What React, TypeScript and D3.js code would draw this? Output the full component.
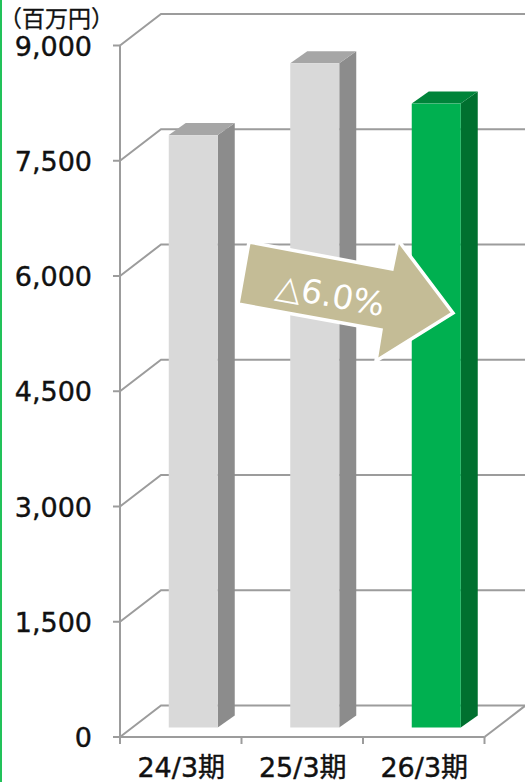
import React from "react";
import * as d3 from "d3";

const categories = ["24/3期", "25/3期", "26/3期"];
const values = [7710, 8645, 8120];
const yTicks = [0, 1500, 3000, 4500, 6000, 7500, 9000];
const unitLabel = "（百万円）";
const changeLabel = "△6.0%";
const barFaces = [
  { front: "#d9d9d9", side: "#8c8c8c", top: "#a6a6a6" },
  { front: "#d9d9d9", side: "#8c8c8c", top: "#a6a6a6" },
  { front: "#00b050", side: "#00702f", top: "#00843a" },
];

const FONT = "'DejaVu Sans','Noto Sans CJK JP',sans-serif";
const GRID = "#9c9c9c";
const AXIS = "#9c9c9c";

const y = d3.scaleLinear().domain([0, 9000]).range([737, 45.5]);
const x = d3.scaleBand<string>().domain(categories).range([120, 484.5]);
const wallDx = 41;
const wallDy = -31.5;
const barDx = 17;
const barDy = -12;
const barW = 49;

export default function App() {
  return (
    <svg
      width={525}
      height={782}
      style={{ position: "fixed", left: 0, top: 0, background: "#fff" }}
    >
      <rect x={0} y={0} width={2} height={782} fill="#22c25a" />

      {/* back wall and floor grid */}
      {yTicks.map((t) => (
        <path
          key={t}
          d={`M${x.range()[0]},${y(t)}L${x.range()[0] + wallDx},${y(t) + wallDy}H525`}
          fill="none"
          stroke={GRID}
          strokeWidth={2}
        />
      ))}
      <path
        d={`M${x.range()[1]},${y(0)}L525,${y(0) + (wallDy * (525 - x.range()[1])) / wallDx}`}
        fill="none"
        stroke={GRID}
        strokeWidth={2}
      />

      {/* axes */}
      <path d={`M120,${y(9000)}V${y(0)}H${x.range()[1]}`} fill="none" stroke={AXIS} strokeWidth={2} />
      {yTicks.map((t) => (
        <line key={t} x1={113} x2={120} y1={y(t)} y2={y(t)} stroke={AXIS} strokeWidth={2} />
      ))}
      {[...categories.map((c) => x(c)!), x.range()[1]].map((px) => (
        <line key={px} x1={px} x2={px} y1={y(0)} y2={y(0) + 7} stroke={AXIS} strokeWidth={2} />
      ))}

      {/* bars */}
      {categories.map((c, i) => {
        const x0 = x(c)! + (x.bandwidth() - barW) / 2 + 12.5;
        const yBase = y(0) - 9.5;
        const yTop = yBase - (y(0) - y(values[i]));
        const x1 = x0 + barW;
        const f = barFaces[i];
        return (
          <g key={c}>
            <path
              d={`M${x1},${yTop}L${x1 + barDx},${yTop + barDy}V${yBase + barDy}L${x1},${yBase}Z`}
              fill={f.side}
            />
            <path
              d={`M${x0},${yTop}L${x0 + barDx},${yTop + barDy}H${x1 + barDx}L${x1},${yTop}Z`}
              fill={f.top}
            />
            <rect x={x0} y={yTop} width={barW} height={yBase - yTop} fill={f.front} />
          </g>
        );
      })}

      {/* y labels */}
      {yTicks.map((t) => (
        <text
          key={t}
          x={92}
          y={y(t) + 10}
          textAnchor="end"
          fontFamily={FONT}
          fontSize={27}
          fill="#111"
          stroke="#111"
          strokeWidth={0.4}
        >
          {d3.format(",")(t)}
        </text>
      ))}
      <text
        x={-1}
        y={27}
        fontFamily="'Noto Sans CJK JP',sans-serif"
        fontSize={23}
        fill="#111"
        stroke="#111"
        strokeWidth={0.3}
      >
        {unitLabel}
      </text>

      {/* x labels */}
      {categories.map((c) => (
        <text
          key={c}
          x={x(c)! + x.bandwidth() / 2 + 0.5}
          y={777}
          textAnchor="middle"
          fontFamily={FONT}
          fontSize={27}
          fill="#111"
          stroke="#111"
          strokeWidth={0.4}
        >
          {c}
        </text>
      ))}

      {/* change arrow */}
      <polygon
        points="249,242 392,269 398,240 453,313 376,361 381,330 238,304"
        fill="#c4bc96"
        stroke="#fff"
        strokeWidth={3.5}
      />
      <text
        x={330}
        y={297}
        textAnchor="middle"
        dominantBaseline="middle"
        transform="rotate(10.5 330 297)"
        fontFamily={FONT}
        fontSize={33}
        fill="#fff"
      >
        {changeLabel}
      </text>
    </svg>
  );
}
